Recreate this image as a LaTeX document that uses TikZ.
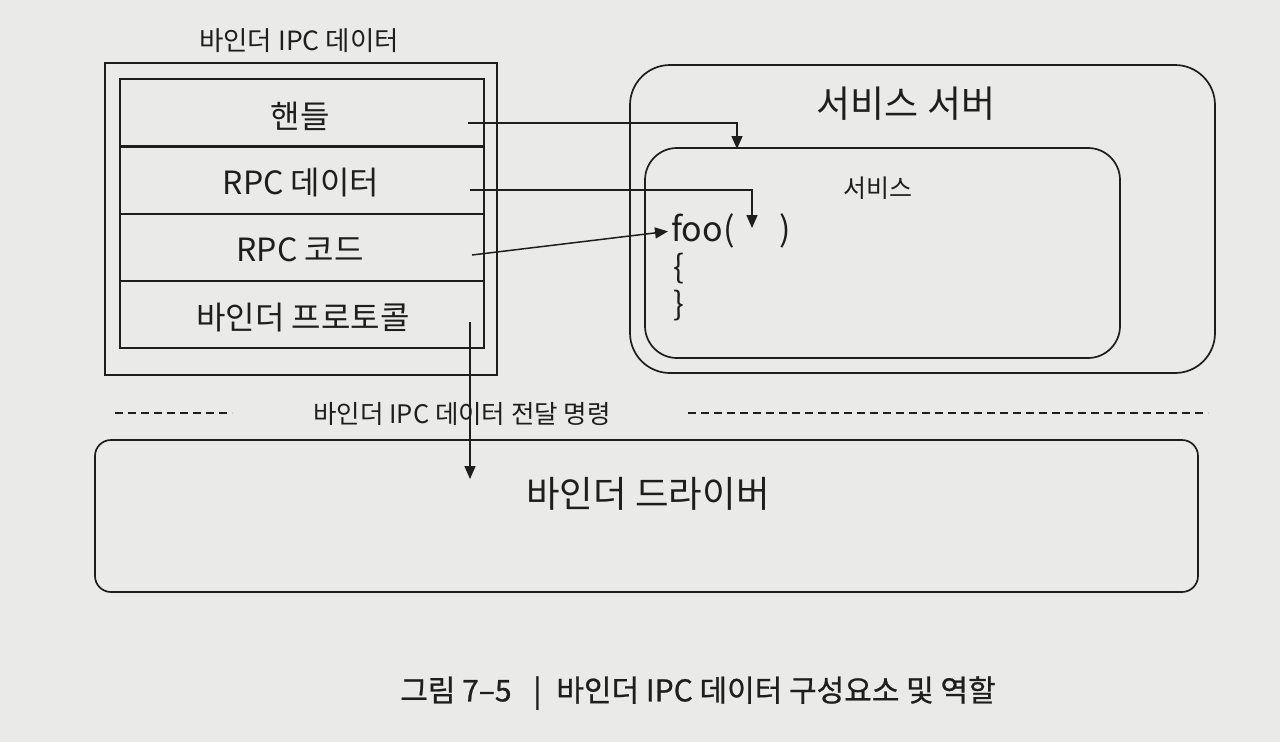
\documentclass[tikz,border=0pt]{standalone}
\usepackage{fontspec}
\setmainfont{Noto Sans CJK KR}
\newfontfamily\capfont[FakeBold=0.8]{Noto Sans CJK KR}
\usetikzlibrary{arrows.meta}
\definecolor{paper}{RGB}{234,234,232}
\definecolor{ink}{RGB}{30,30,30}
\tikzset{
  ln/.style={draw=ink, line width=1.7pt},
  rowbox/.style={ln, minimum width=364pt, minimum height=67pt, inner sep=0pt},
  rowtxt/.style={text=ink, inner sep=0pt, font=\fontsize{32}{34}\selectfont},
  rbox/.style={ln, rounded corners=#1},
  conn/.style={draw=ink, line width=1.5pt, -{Triangle[length=13pt,width=11pt]}},
  dsh/.style={draw=ink, line width=1.3pt, dash pattern=on 8pt off 5pt},
  lbl/.style={text=ink, inner sep=0pt}
}
\begin{document}
\begin{tikzpicture}[x=1pt,y=-1pt]
\fill[paper] (0,0) rectangle (1280,742);
\useasboundingbox (0,0) rectangle (1280,742);

% left: binder IPC data
\node[lbl, font=\fontsize{26.5}{28}\selectfont] (title) at (299,41) {바인더 IPC 데이터};
\node[ln, minimum width=392pt, minimum height=312pt, inner sep=0pt] (frame) at (301,219) {};
\node[rowbox] (r1) at (302,112.5) {};
\node[rowbox] (r2) at (302,180.5) {};
\node[rowbox] (r3) at (302,247.5) {};
\node[rowbox] (r4) at (302,314.5) {};
\node[rowtxt] (r1t) at (300,116) {핸들};
\node[rowtxt] (r2t) at (301,183) {RPC 데이터};
\node[rowtxt] (r3t) at (300,250) {RPC 코드};
\node[rowtxt] (r4t) at (303,318) {바인더 프로토콜};

% right: service server
\node[rbox=40pt, minimum width=585pt, minimum height=308pt, inner sep=0pt] (srv) at (922.5,219) {};
\node[lbl, font=\fontsize{37}{39}\selectfont] (srvt) at (906,104) {서비스 서버};
\node[rbox=32pt, minimum width=475pt, minimum height=210pt, inner sep=0pt] (svc) at (882.5,253) {};
\node[lbl, font=\fontsize{25}{27}\selectfont] (svct) at (878,188) {서비스};
\node[lbl, anchor=west, font=\fontsize{34}{36}\selectfont] (foo) at (671,231) {foo(\hspace{45pt})};
\node[lbl, anchor=west, font=\fontsize{32}{34}\selectfont] (ob) at (673,269) {\{};
\node[lbl, anchor=west, font=\fontsize{32}{34}\selectfont] (cb) at (673,306) {\}};

% separator
\node[lbl, font=\fontsize{25.5}{27}\selectfont] (cmd) at (462,414) {바인더 IPC 데이터 전달 명령};
\coordinate (dl1) at (115,413);
\coordinate (dl2) at (232,413);
\coordinate (dr1) at (688,413);
\coordinate (dr2) at (1208,413);
\draw[dsh] (dl1) -- (dl2);
\draw[dsh] (dr1) -- (dr2);

% binder driver
\node[rbox=16pt, minimum width=1103pt, minimum height=152pt, inner sep=0pt] (drv) at (646.5,516) {};
\node[lbl, font=\fontsize{36.5}{38}\selectfont] (drvt) at (648,494) {바인더 드라이버};

% caption
\node[lbl, font=\capfont\fontsize{30}{32}\selectfont] (cap) at (698,693) {그림 7–5 \enspace|\enspace 바인더 IPC 데이터 구성요소 및 역할};

% connectors
\coordinate (hs) at (468,123);
\coordinate (ht) at (737,149);
\coordinate (ds) at (470,190);
\coordinate (dt) at (752,228);
\coordinate (cs) at (472,255);
\coordinate (ps) at (470,322);
\coordinate (pt) at (470,479);
\draw[conn] (hs) -| (ht);
\draw[conn] (ds) -| (dt);
\draw[conn, shorten >=3pt] (cs) -- (foo.west);
\draw[conn] (ps) -- (pt);
\end{tikzpicture}
\end{document}
